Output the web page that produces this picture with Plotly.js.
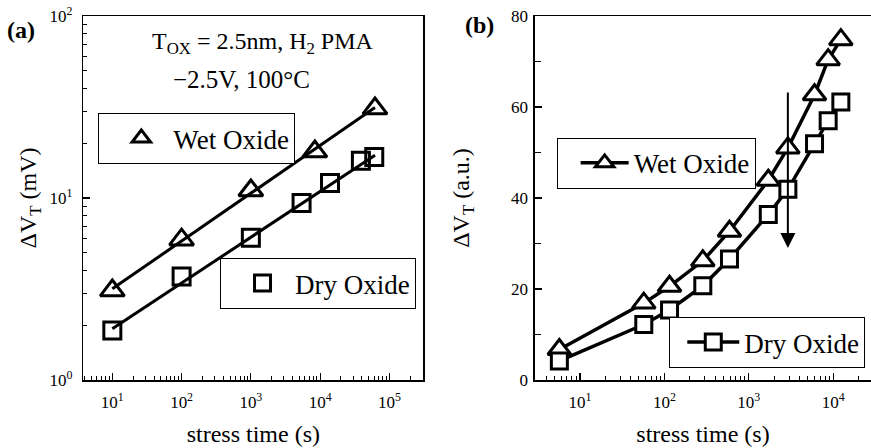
<!DOCTYPE html>
<html><head><meta charset="utf-8">
<script src="https://cdn.plot.ly/plotly-3.0.1.min.js"></script>
<style>html,body{margin:0;padding:0;background:#fff}</style>
</head><body><div id="chart" style="width:871px;height:448px"></div>
<script>
// ---------- Panel (a): log-log, power-law fits ----------
const timeA_wet = [10, 100, 1000, 8400, 62000];
const dvtA_wet  = [3.1, 5.9, 11.0, 18.0, 31.0];
const timeA_dry = [10, 100, 1000, 5400, 13900, 38800, 60500];
const dvtA_dry  = [1.87, 3.7, 6.05, 9.4, 12.1, 16.0, 16.8];
const fitTimeA  = [10, 62000];
const fitA_wet  = [3.17, 31.4];
const fitA_dry  = [1.91, 17.2];

// ---------- Panel (b): log-x, linear y ----------
const timeB    = [5.7, 57, 115, 285, 590, 1700, 2900, 6000, 8700, 12300];
const dvtB_wet = [6.7, 16.9, 20.6, 26.2, 32.7, 43.9, 51.0, 62.7, 70.4, 74.8];
const dvtB_dry = [4.2, 12.2, 15.4, 20.7, 26.6, 36.4, 41.9, 51.9, 57.0, 61.1];
const arrowTime = 2900, arrowFrom = 63.5, arrowTo = 29;

// ---------- tick labels ----------
const xTickValsA = [10, 100, 1000, 10000, 100000];
const xTickTextA = ['10<sup>1</sup>','10<sup>2</sup>','10<sup>3</sup>','10<sup>4</sup>','10<sup>5</sup>'];
const yTickValsA = [1, 10, 100];
const yTickTextA = ['10<sup>0</sup>','10<sup>1</sup>','10<sup>2</sup>'];
const xTickValsB = [10, 100, 1000, 10000];
const xTickTextB = ['10<sup>1</sup>','10<sup>2</sup>','10<sup>3</sup>','10<sup>4</sup>'];
const yTickValsB = [0, 20, 40, 60, 80];

const minorLog = [];
for (let k = -1; k <= 6; k++) for (let m = 2; m <= 9; m++) minorLog.push(m * Math.pow(10, k));

const F = "'Liberation Serif', 'Times New Roman', serif";
const K = '#000';
const tickFont = () => ({family: F, size: 17, color: K});
const titleFont = () => ({family: F, size: 24, color: K});

function ax(extra) {
  return Object.assign({
    showline: true, linecolor: K, linewidth: 1.5,
    ticks: 'inside', ticklen: 7, tickwidth: 1.2, tickcolor: K,
    showgrid: false, zeroline: false, tickfont: tickFont()
  }, extra);
}
const minorLogCfg = () => ({ticks: 'inside', ticklen: 4, tickwidth: 1, tickcolor: K, tickvals: minorLog, showgrid: false});

const traces = [
  {x: timeA_wet, y: dvtA_wet, xaxis: 'x', yaxis: 'y', mode: 'markers', name: 'Wet Oxide', legend: 'legend',
   marker: {symbol: 'triangle-up-open', size: 21, color: K, line: {color: K, width: 3}}},
  {x: timeA_dry, y: dvtA_dry, xaxis: 'x', yaxis: 'y', mode: 'markers', name: 'Dry Oxide', legend: 'legend2',
   marker: {symbol: 'square-open', size: 17, color: K, line: {color: K, width: 3}}},
  {x: fitTimeA, y: fitA_wet, xaxis: 'x', yaxis: 'y', mode: 'lines', showlegend: false,
   line: {color: K, width: 3}},
  {x: fitTimeA, y: fitA_dry, xaxis: 'x', yaxis: 'y', mode: 'lines', showlegend: false,
   line: {color: K, width: 3}},
  {x: timeB, y: dvtB_wet, xaxis: 'x2', yaxis: 'y2', mode: 'lines+markers', name: 'Wet Oxide', legend: 'legend3',
   line: {color: K, width: 3.5},
   marker: {symbol: 'triangle-up', size: 20, color: '#fff', line: {color: K, width: 3}}},
  {x: timeB, y: dvtB_dry, xaxis: 'x2', yaxis: 'y2', mode: 'lines+markers', name: 'Dry Oxide', legend: 'legend4',
   line: {color: K, width: 3.5},
   marker: {symbol: 'square', size: 16, color: '#fff', line: {color: K, width: 3}}}
];

const legBase = () => ({xanchor: 'left', yanchor: 'top', bordercolor: K, borderwidth: 1, bgcolor: '#fff',
  font: {family: F, size: 27, color: K}, tracegroupgap: 0});

const layout = {
  width: 871, height: 448,
  margin: {l: 0, r: 0, t: 16, b: 68},
  paper_bgcolor: '#fff', plot_bgcolor: '#fff',
  showlegend: true,
  font: {family: F, color: K},
  xaxis: ax({type: 'log', range: [0.5815, 5.49], domain: [0.0957, 0.486], anchor: 'y', mirror: true,
    tickmode: 'array', tickvals: xTickValsA, ticktext: xTickTextA, minor: minorLogCfg(), ticklabelstandoff: 6,
    title: {text: 'stress time (s)', font: titleFont(), standoff: 14}}),
  yaxis: ax({type: 'log', range: [0, 2], domain: [0, 1], anchor: 'x', mirror: true,
    tickmode: 'array', tickvals: yTickValsA, ticktext: yTickTextA, minor: minorLogCfg(), ticklabelstandoff: 6,
    title: {text: 'ΔV<sub>T</sub> (mV)', font: titleFont(), standoff: 6}}),
  xaxis2: ax({type: 'log', range: [0.467, 4.447], domain: [0.6142, 1], anchor: 'y2', mirror: true,
    tickmode: 'array', tickvals: xTickValsB, ticktext: xTickTextB, minor: minorLogCfg(), ticklabelstandoff: 6,
    title: {text: 'stress time (s)', font: titleFont(), standoff: 14}}),
  yaxis2: ax({type: 'linear', range: [0, 80], domain: [0, 1], anchor: 'x2', mirror: false,
    tickmode: 'array', tickvals: yTickValsB, ticklabelstandoff: 2,
    minor: {ticks: 'inside', ticklen: 6, tickwidth: 1, tickcolor: K, dtick: 10, showgrid: false},
    title: {text: 'ΔV<sub>T</sub> (a.u.)', font: titleFont(), standoff: 34}}),
  legend:  Object.assign(legBase(), {x: 0.1129, y: 0.7335, indentation: 10, itemwidth: 54}),
  legend2: Object.assign(legBase(), {x: 0.2526, y: 0.335, indentation: 9, itemwidth: 55}),
  legend3: Object.assign(legBase(), {x: 0.6391, y: 0.6654, indentation: 18, itemwidth: 48}),
  legend4: Object.assign(legBase(), {x: 0.7684, y: 0.173, indentation: 12, itemwidth: 52}),
  annotations: [
    {xref: 'paper', yref: 'paper', x: 5/871, y: 0.9615, xanchor: 'left', yanchor: 'middle', showarrow: false,
     text: '<b>(a)</b>', font: {family: F, size: 24, color: K}},
    {xref: 'paper', yref: 'paper', x: 463/871, y: 0.975, xanchor: 'left', yanchor: 'middle', showarrow: false,
     text: '<b>(b)</b>', font: {family: F, size: 24, color: K}},
    {xref: 'paper', yref: 'paper', x: 0.302, y: 0.926, xanchor: 'center', yanchor: 'middle', showarrow: false,
     text: 'T<sub>OX</sub> = 2.5nm, H<sub>2</sub> PMA', font: {family: F, size: 24, color: K}},
    {xref: 'paper', yref: 'paper', x: 0.2775, y: 0.826, xanchor: 'center', yanchor: 'middle', showarrow: false,
     text: '\u22122.5V, 100\u00B0C', font: {family: F, size: 25, color: K}},
    {xref: 'x2', yref: 'y2', x: Math.log10(arrowTime), y: arrowTo,
     axref: 'x2', ayref: 'y2', ax: Math.log10(arrowTime), ay: arrowFrom,
     text: '', showarrow: true, arrowhead: 2, arrowsize: 1.5, arrowwidth: 2, arrowcolor: K, standoff: 0, startstandoff: 0}
  ]
};

Plotly.newPlot('chart', traces, layout, {staticPlot: true, displayModeBar: false});
</script>
</body></html>
